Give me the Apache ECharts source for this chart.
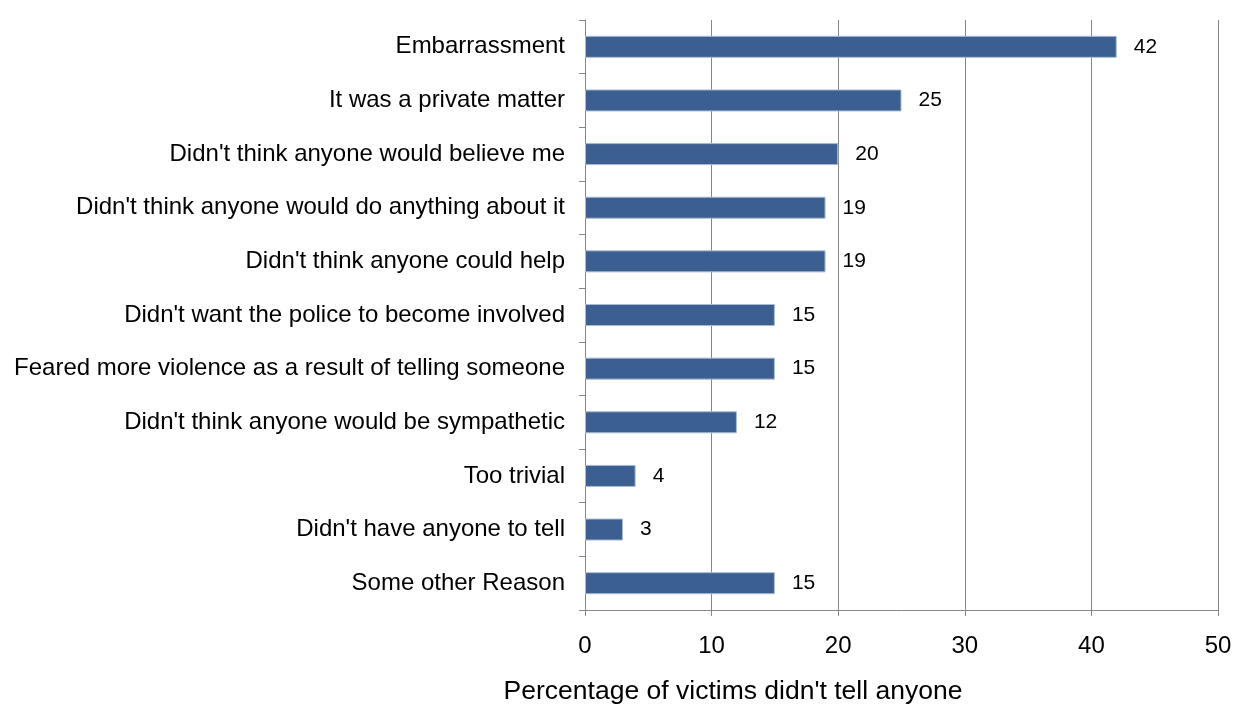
<!DOCTYPE html>
<html>
<head>
<meta charset="utf-8">
<script src="https://cdn.jsdelivr.net/npm/echarts@6/dist/echarts.min.js"></script>
<style>
  html, body { margin: 0; padding: 0; background: #ffffff; }
  #chart { width: 1235px; height: 708px; }
</style>
</head>
<body>
<div id="chart"></div>
<script>
// Reasons given for not telling anyone (top to bottom)
const reasons = [
  "Embarrassment",
  "It was a private matter",
  "Didn't think anyone would believe me",
  "Didn't think anyone would do anything about it",
  "Didn't think anyone could help",
  "Didn't want the police to become involved",
  "Feared more violence as a result of telling someone",
  "Didn't think anyone would be sympathetic",
  "Too trivial",
  "Didn't have anyone to tell",
  "Some other Reason"
];
// Percentage of victims giving each reason
const percentages = [42, 25, 20, 19, 19, 15, 15, 12, 4, 3, 15];
const xTicks = [0, 10, 20, 30, 40, 50];
const xTitle = "Percentage of victims didn't tell anyone";

const FONT = "'Liberation Sans', Arial, sans-serif";

const chart = echarts.init(document.getElementById('chart'), null, { renderer: 'canvas' });

chart.setOption({
  animation: false,
  backgroundColor: '#ffffff',
  grid: { left: 585, right: 17, top: 20, bottom: 98, containLabel: false },
  xAxis: {
    type: 'value',
    min: xTicks[0],
    max: xTicks[xTicks.length - 1],
    interval: 10,
    axisLine: { show: true, lineStyle: { color: '#868686', width: 1 } },
    axisTick: { show: true, length: 6, lineStyle: { color: '#868686' } },
    axisLabel: { color: '#000', fontFamily: FONT, fontSize: 24, margin: 24 },
    splitLine: { show: true, lineStyle: { color: '#868686', width: 1 } }
  },
  yAxis: {
    type: 'category',
    data: reasons,
    inverse: true,
    axisLine: { show: true, lineStyle: { color: '#868686', width: 1 } },
    axisTick: { show: true, length: 6, lineStyle: { color: '#868686' } },
    axisLabel: { color: '#000', fontFamily: FONT, fontSize: 24, margin: 20 },
    splitLine: { show: false }
  },
  series: [{
    type: 'bar',
    data: percentages,
    barWidth: 22,
    itemStyle: { color: '#3c5f91', borderColor: '#a9bad3', borderWidth: 1 },
    label: {
      show: true,
      position: 'right',
      distance: 17,
      color: '#000',
      fontFamily: FONT,
      fontSize: 21
    }
  }],
  graphic: [{
    type: 'text',
    x: 733,
    y: 692,
    style: {
      text: xTitle,
      fill: '#000',
      font: "26.5px " + FONT,
      textAlign: 'center',
      textVerticalAlign: 'middle'
    }
  }]
});
</script>
</body>
</html>
